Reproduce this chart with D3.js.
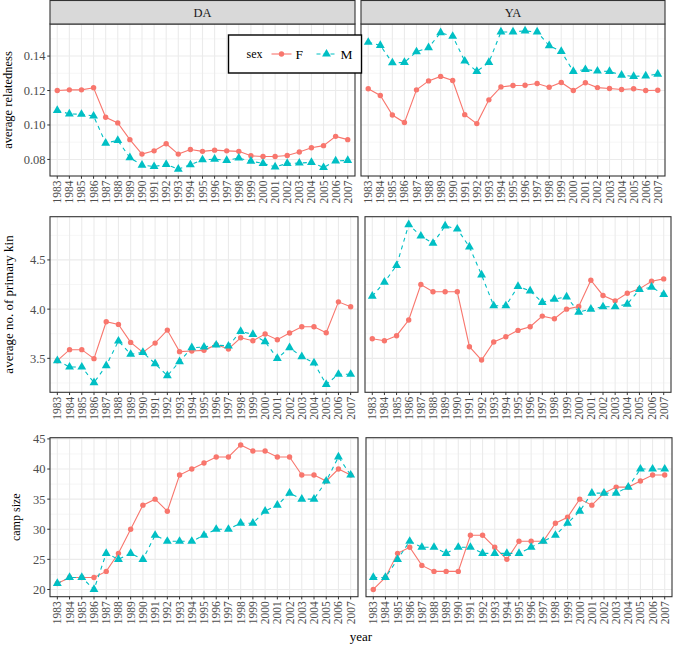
<!DOCTYPE html>
<html><head><meta charset="utf-8">
<script src="https://cdn.jsdelivr.net/npm/d3@7"></script>
<style>
body{margin:0;background:#fff}
text{font-family:"Liberation Serif","Times New Roman",serif}
</style>
</head><body>
<svg id="chart" width="675" height="646"></svg>
<script>
const years = [1983,1984,1985,1986,1987,1988,1989,1990,1991,1992,1993,1994,1995,1996,1997,1998,1999,2000,2001,2002,2003,2004,2005,2006,2007];
const groups = ["DA","YA"];
const sexes = ["F","M"];

const relDA_F = [0.1200,0.1204,0.1204,0.1216,0.1045,0.1012,0.0915,0.0831,0.0850,0.0891,0.0831,0.0858,0.0847,0.0854,0.0850,0.0847,0.0821,0.0817,0.0817,0.0823,0.0843,0.0868,0.0880,0.0934,0.0915];
const relDA_M = [0.1085,0.1064,0.1062,0.1052,0.0895,0.0911,0.0810,0.0767,0.0759,0.0771,0.0744,0.0769,0.0798,0.0802,0.0794,0.0808,0.0790,0.0777,0.0757,0.0777,0.0779,0.0783,0.0753,0.0792,0.0794];
const relYA_F = [0.1210,0.1171,0.1058,0.1014,0.1204,0.1256,0.1282,0.1258,0.1060,0.1008,0.1146,0.1221,0.1229,0.1231,0.1241,0.1219,0.1247,0.1200,0.1245,0.1217,0.1212,0.1206,0.1210,0.1200,0.1202];
const relYA_M = [0.1480,0.1462,0.1361,0.1363,0.1425,0.1449,0.1536,0.1515,0.1371,0.1311,0.1363,0.1540,0.1540,0.1546,0.1540,0.1460,0.1427,0.1311,0.1322,0.1313,0.1311,0.1289,0.1282,0.1285,0.1295];

const kinDA_F = [3.476,3.588,3.588,3.497,3.872,3.845,3.662,3.561,3.655,3.787,3.568,3.574,3.581,3.639,3.595,3.709,3.679,3.747,3.689,3.757,3.821,3.821,3.760,4.074,4.024];
const kinDA_M = [3.476,3.412,3.412,3.253,3.426,3.676,3.541,3.561,3.446,3.324,3.466,3.608,3.615,3.635,3.625,3.774,3.743,3.669,3.500,3.608,3.517,3.453,3.236,3.338,3.338];
const kinYA_F = [3.699,3.679,3.730,3.889,4.250,4.176,4.176,4.176,3.618,3.483,3.666,3.720,3.784,3.821,3.929,3.902,4.000,4.027,4.294,4.139,4.084,4.162,4.206,4.284,4.307];
const kinYA_M = [4.132,4.274,4.443,4.858,4.743,4.669,4.845,4.814,4.632,4.348,4.034,4.034,4.230,4.186,4.068,4.101,4.125,3.970,4.000,4.024,4.024,4.051,4.199,4.223,4.149];

const campDA_F = [21,22,22,22,23,26,30,34,35,33,39,40,41,42,42,44,43,43,42,42,39,39,38,40,39];
const campDA_M = [21,22,22,20,26,25,26,25,29,28,28,28,29,30,30,31,31,33,34,36,35,35,38,42,39];
const campYA_F = [20,22,26,27,24,23,23,23,29,29,27,25,28,28,28,31,32,35,34,36,37,37,38,39,39];
const campYA_M = [22,22,25,28,27,27,26,27,27,26,26,26,26,27,28,29,31,33,36,36,36,37,40,40,40];

const relTicks = [0.08,0.10,0.12,0.14];
const relMinor = [0.07,0.09,0.11,0.13,0.15];
const kinTicks = [3.5,4.0,4.5];
const kinMinor = [3.25,3.75,4.25,4.75];
const campTicks = [20,25,30,35,40,45];
const campMinor = [22.5,27.5,32.5,37.5,42.5];

const yTitles = ["average relatedness","average no. of primary kin","camp size"];
const xTitle = "year";
const legendTitle = "sex";

const colors = {F:"#F8766D", M:"#00BFC4"};

const rows = [
  {title:yTitles[0], series:{DA:{F:relDA_F,M:relDA_M},YA:{F:relYA_F,M:relYA_M}}, ticks:relTicks, minor:relMinor, fmt:d3.format(".2f"),
   y0:24, y1:176, panels:[[50,355],[361,665]], strip:true, titleX:12, titleSize:12.5},
  {title:yTitles[1], series:{DA:{F:kinDA_F,M:kinDA_M},YA:{F:kinYA_F,M:kinYA_M}}, ticks:kinTicks, minor:kinMinor, fmt:d3.format(".1f"),
   y0:216.7, y1:392.3, panels:[[50,358],[365,671]], strip:false, titleX:13, titleSize:13},
  {title:yTitles[2], series:{DA:{F:campDA_F,M:campDA_M},YA:{F:campYA_F,M:campYA_M}}, ticks:campTicks, minor:campMinor, fmt:d3.format("d"),
   y0:437.7, y1:596.7, panels:[[50,358],[366,672]], strip:false, titleX:19.5, titleSize:12}
];

const svg = d3.select("#chart");
const tickCol = "#4D4D4D";

rows.forEach(row => {
  const all = [];
  groups.forEach(g => sexes.forEach(s => all.push(...row.series[g][s])));
  const [mn, mx] = d3.extent(all);
  const pad = (mx - mn) * 0.05;
  const y = d3.scaleLinear().domain([mn - pad, mx + pad]).range([row.y1, row.y0]);

  groups.forEach((g, gi) => {
    const [x0, x1] = row.panels[gi];
    const x = d3.scalePoint().domain(years).range([x0, x1]).padding(0.6);
    const p = svg.append("g");

    p.append("rect").attr("x", x0).attr("y", row.y0).attr("width", x1 - x0).attr("height", row.y1 - row.y0).attr("fill", "#fff");
    p.selectAll(".ymin").data(row.minor.filter(v => y(v) > row.y0 && y(v) < row.y1)).join("line")
      .attr("x1", x0).attr("x2", x1).attr("y1", d => y(d)).attr("y2", d => y(d))
      .attr("stroke", "#F0F0F0").attr("stroke-width", 0.6);
    p.selectAll(".ymaj").data(row.ticks).join("line")
      .attr("x1", x0).attr("x2", x1).attr("y1", d => y(d)).attr("y2", d => y(d))
      .attr("stroke", "#EBEBEB").attr("stroke-width", 1.1);
    p.selectAll(".xmaj").data(years).join("line")
      .attr("x1", d => x(d)).attr("x2", d => x(d)).attr("y1", row.y0).attr("y2", row.y1)
      .attr("stroke", "#EBEBEB").attr("stroke-width", 1.1);

    sexes.forEach(s => {
      const vals = row.series[g][s];
      const line = d3.line().x((d, i) => x(years[i])).y(d => y(d));
      p.append("path").datum(vals).attr("d", line).attr("fill", "none")
        .attr("stroke", colors[s]).attr("stroke-width", 1.1)
        .attr("stroke-dasharray", s === "M" ? "4,4" : null);
    });
    sexes.forEach(s => {
      const vals = row.series[g][s];
      if (s === "F") {
        p.selectAll(".pf").data(vals).join("circle")
          .attr("cx", (d, i) => x(years[i])).attr("cy", d => y(d)).attr("r", 2.7).attr("fill", colors.F);
      } else {
        const tri = d3.symbol().type(d3.symbolTriangle).size(34);
        p.selectAll(".pm").data(vals).join("path")
          .attr("d", tri).attr("transform", (d, i) => `translate(${x(years[i])},${y(d)})`).attr("fill", colors.M);
      }
    });

    p.append("rect").attr("x", x0).attr("y", row.y0).attr("width", x1 - x0).attr("height", row.y1 - row.y0)
      .attr("fill", "none").attr("stroke", "#333").attr("stroke-width", 1.1);

    if (row.strip) {
      p.append("rect").attr("x", x0).attr("y", 0.5).attr("width", x1 - x0).attr("height", row.y0 - 0.5)
        .attr("fill", "#D9D9D9").attr("stroke", "#333").attr("stroke-width", 1.1);
      p.append("text").attr("x", (x0 + x1) / 2).attr("y", (row.y0 + 0.5) / 2).attr("dy", "0.36em")
        .attr("text-anchor", "middle").attr("font-size", 12.5).attr("fill", "#1A1A1A").text(g);
    }

    p.selectAll(".xt").data(years).join("line")
      .attr("x1", d => x(d)).attr("x2", d => x(d)).attr("y1", row.y1).attr("y2", row.y1 + 2.75)
      .attr("stroke", "#333").attr("stroke-width", 1);
    p.selectAll(".xl").data(years).join("text")
      .attr("transform", d => `translate(${x(d)},${row.y1 + 4.5}) rotate(-90)`)
      .attr("dy", "0.35em").attr("text-anchor", "end").attr("font-size", 11.5).attr("fill", tickCol)
      .text(d => d);

    if (gi === 0) {
      p.selectAll(".yt").data(row.ticks).join("line")
        .attr("x1", x0 - 2.75).attr("x2", x0).attr("y1", d => y(d)).attr("y2", d => y(d))
        .attr("stroke", "#333").attr("stroke-width", 1);
      p.selectAll(".yl").data(row.ticks).join("text")
        .attr("x", x0 - 4.5).attr("y", d => y(d)).attr("dy", "0.35em")
        .attr("text-anchor", "end").attr("font-size", 12.5).attr("fill", tickCol)
        .text(d => row.fmt(d));
    }
  });

  svg.append("text")
    .attr("transform", `translate(${row.titleX},${(row.y0 + row.y1) / 2}) rotate(-90)`)
    .attr("text-anchor", "middle").attr("font-size", row.titleSize).attr("fill", "#000")
    .text(row.title);
});

svg.append("text").attr("x", 361).attr("y", 641).attr("text-anchor", "middle")
  .attr("font-size", 13).attr("fill", "#000").text(xTitle);

const lg = svg.append("g");
lg.append("rect").attr("x", 228.5).attr("y", 35).attr("width", 133).attr("height", 38)
  .attr("fill", "#fff").attr("stroke", "#000").attr("stroke-width", 1.4);
lg.append("text").attr("x", 246.5).attr("y", 58).attr("font-size", 12).attr("fill", "#000").text(legendTitle);
const keyX = {F:271.5, M:316.5};
sexes.forEach(s => {
  const kx = keyX[s];
  lg.append("line").attr("x1", kx).attr("x2", kx + 20).attr("y1", 54).attr("y2", 54)
    .attr("stroke", colors[s]).attr("stroke-width", 1.1).attr("stroke-dasharray", s === "M" ? "4,3" : null);
  if (s === "F") lg.append("circle").attr("cx", kx + 10).attr("cy", 54).attr("r", 2.7).attr("fill", colors.F);
  else lg.append("path").attr("d", d3.symbol().type(d3.symbolTriangle).size(34)).attr("transform", `translate(${kx + 10},54)`).attr("fill", colors.M);
  lg.append("text").attr("x", kx + 24).attr("y", 58.5).attr("font-size", 13.5).attr("fill", "#000").text(s);
});
</script>
</body></html>
